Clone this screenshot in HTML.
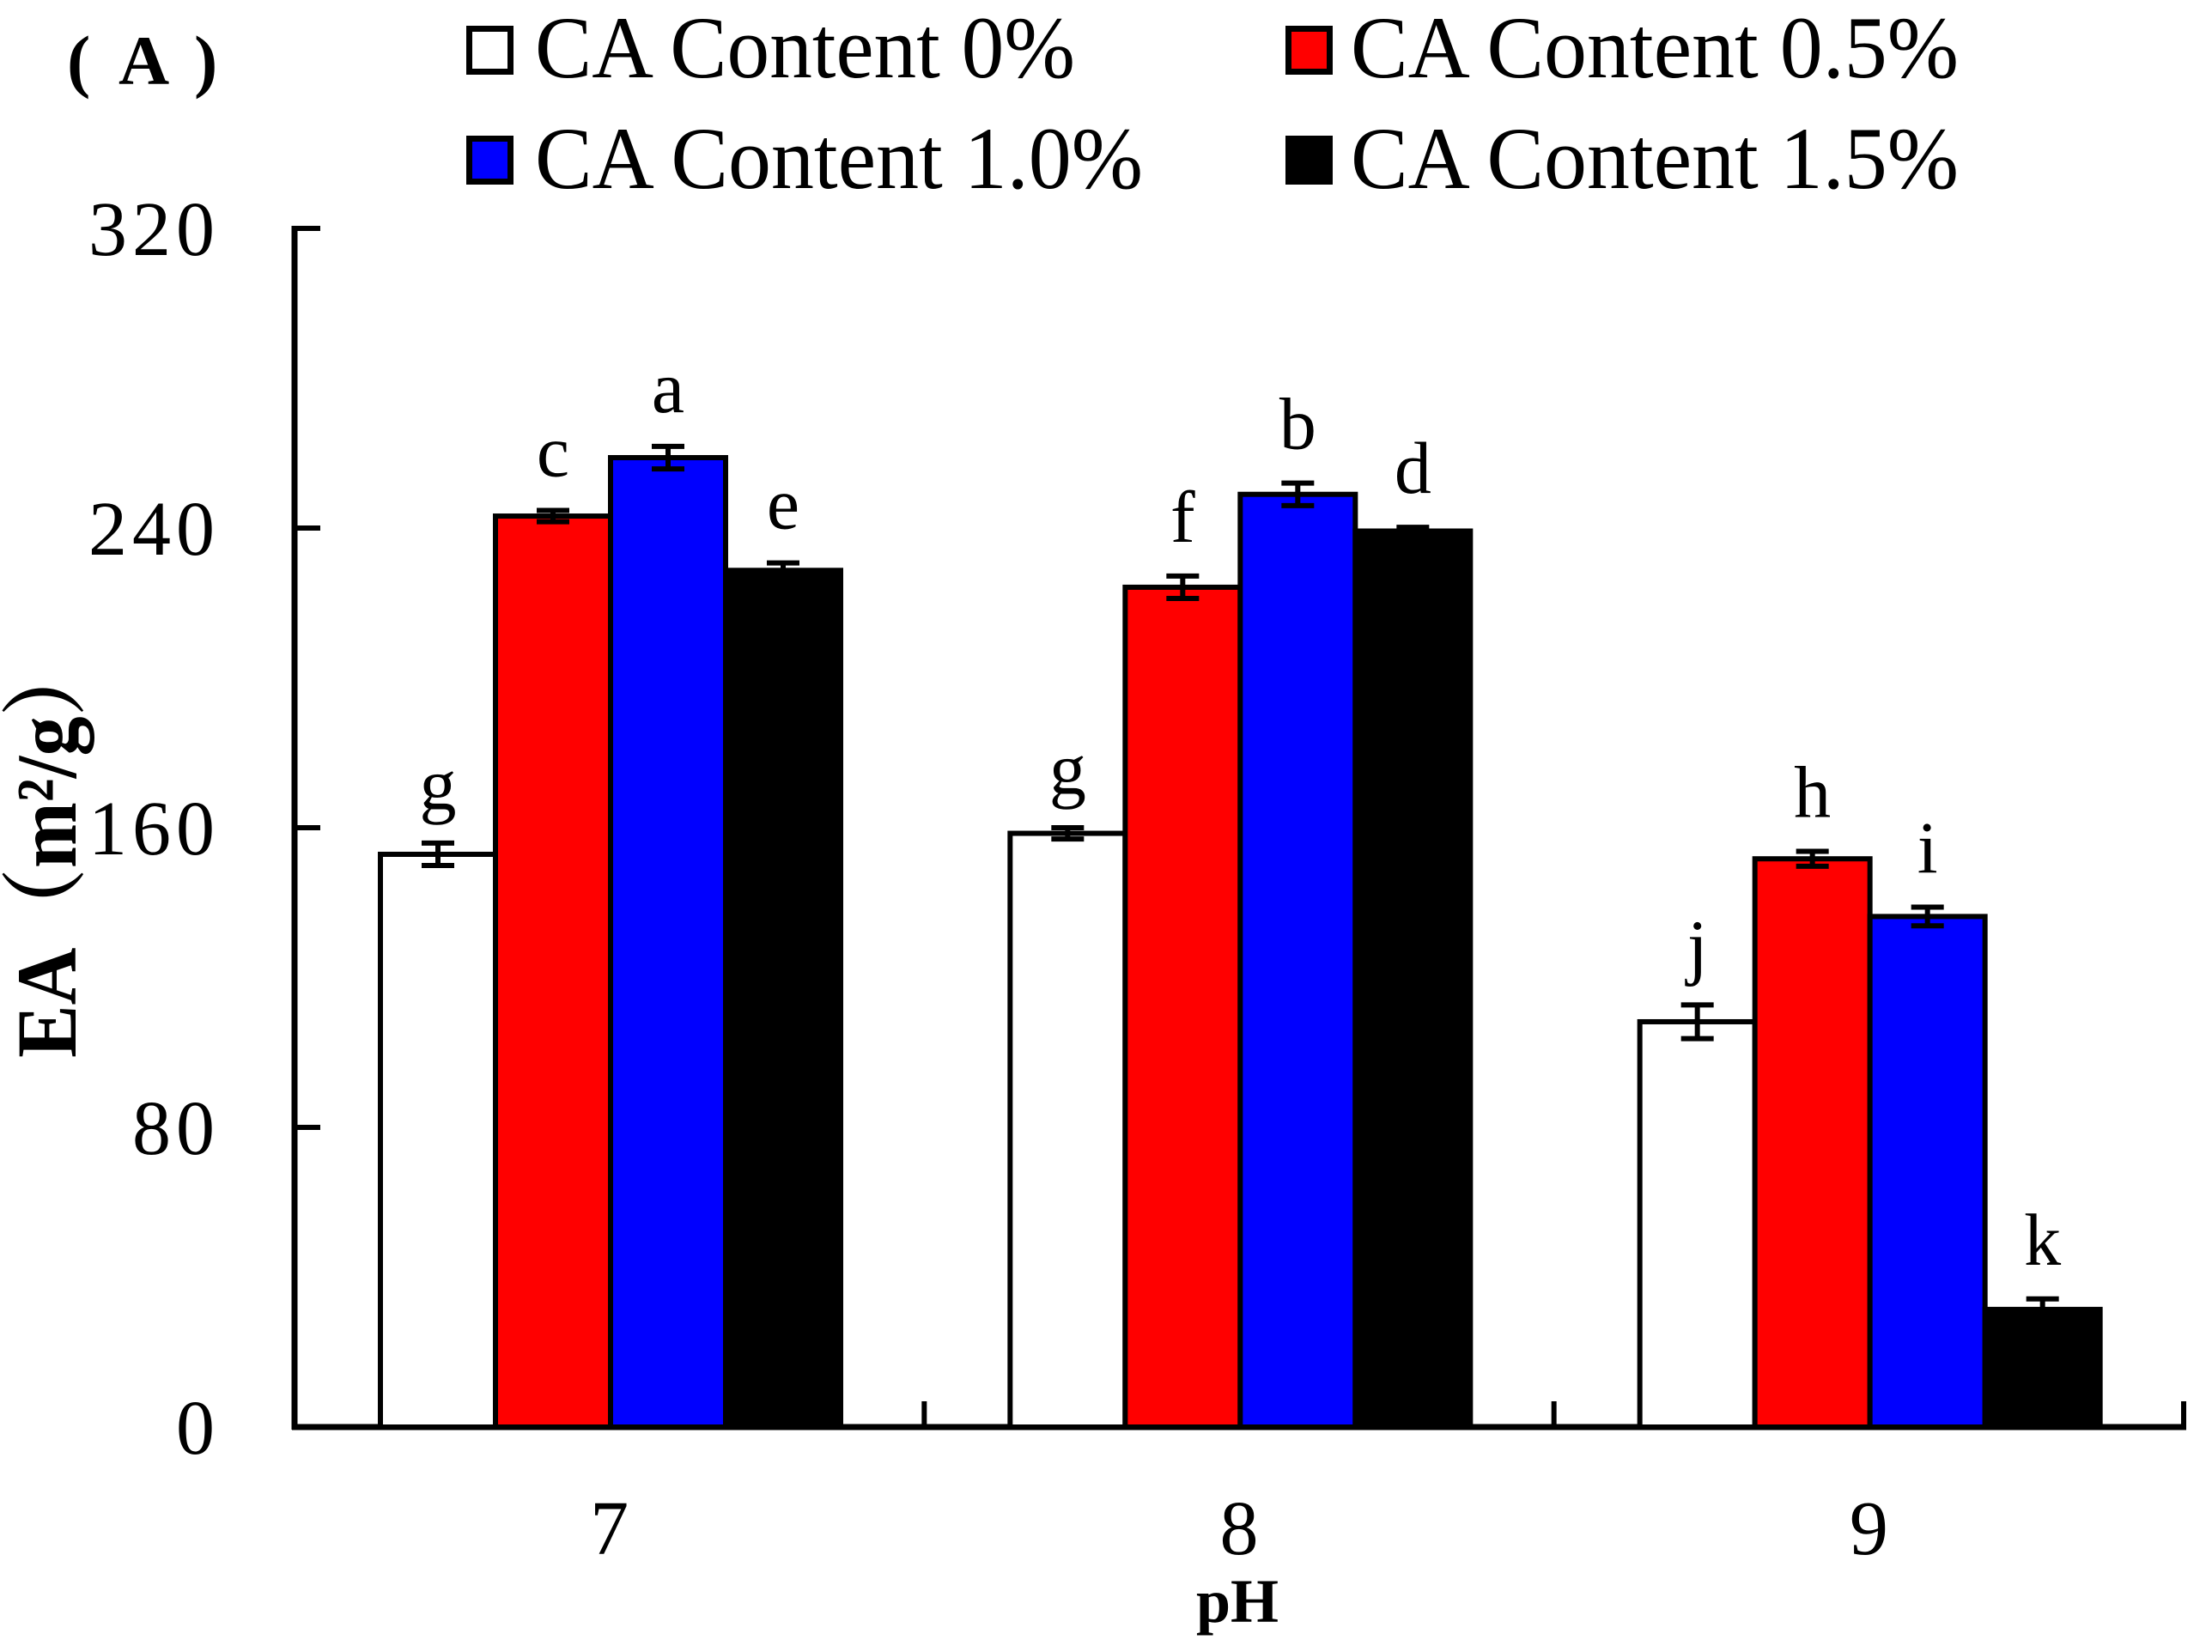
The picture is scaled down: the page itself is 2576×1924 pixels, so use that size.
<!DOCTYPE html>
<html><head><meta charset="utf-8"><style>html,body{margin:0;padding:0;background:#fff}svg{display:block}</style></head>
<body>
<svg id="chart" width="2576" height="1924" viewBox="0 0 2576 1924" xmlns="http://www.w3.org/2000/svg" font-family="'Liberation Serif', 'Noto Serif CJK SC', serif">
<rect width="2576" height="1924" fill="#fff"/>
<g font-size="82" font-weight="bold">
<text x="78" y="98">(</text>
<text x="138" y="98">A</text>
<text x="226" y="98">)</text>
</g>
<g id="legend"></g>
<g id="axes"></g>
<g id="bars"></g>
<text x="1441" y="1889" font-size="72" font-weight="bold" text-anchor="middle">pH</text>
<text transform="translate(88,987) rotate(-90)" font-size="100" font-weight="bold" text-anchor="middle" textLength="490" lengthAdjust="spacingAndGlyphs" font-family="'Liberation Serif','Noto Serif CJK SC',serif">EA（m²/g）</text>
</svg>
<script>
const categories = ["7", "8", "9"];
const seriesNames = ["CA Content 0%", "CA Content 0.5%", "CA Content 1.0%", "CA Content 1.5%"];
const seriesColors = ["#ffffff", "#ff0000", "#0000ff", "#000000"];
const ca0 = [152.9, 158.5, 108.2];
const ca05 = [243.2, 224.2, 151.7];
const ca10 = [258.8, 249.0, 136.3];
const ca15 = [228.7, 239.2, 31.4];
const err0 = [3.0, 1.5, 4.5];
const err05 = [1.5, 3.0, 2.0];
const err10 = [3.0, 3.0, 2.5];
const err15 = [2.0, 1.0, 2.8];
const letters0 = ["g", "g", "j"];
const letters05 = ["c", "f", "h"];
const letters10 = ["a", "b", "i"];
const letters15 = ["e", "d", "k"];
const yTicks = [0, 80, 160, 240, 320];

const NS = "http://www.w3.org/2000/svg";
const X0 = 343, X1 = 2543, Y0 = 1662, YTOP = 266, YMAX = 320;
const groupW = (X1 - X0) / categories.length;
const barW = 134, barOff = 100;
function yScale(v){ return Y0 - (v / YMAX) * (Y0 - YTOP); }
function xBar(gi, si){ return X0 + gi * groupW + barOff + si * barW; }
function mk(tag, attrs, parent){ const e = document.createElementNS(NS, tag); for (const k in attrs) e.setAttribute(k, attrs[k]); parent.appendChild(e); return e; }

const axes = document.getElementById('axes');
const bars = document.getElementById('bars');
const legend = document.getElementById('legend');
const values = [ca0, ca05, ca10, ca15];
const errs = [err0, err05, err10, err15];
const letters = [letters0, letters05, letters10, letters15];

values.forEach((vals, si) => {
  vals.forEach((v, gi) => {
    const x = xBar(gi, si), y = yScale(v);
    const r = mk('rect', {x: x, y: y, width: barW, height: Y0 - y, fill: seriesColors[si], stroke: '#000', 'stroke-width': 6}, bars);
    
    
    const cx = x + barW / 2, e = errs[si][gi];
    const yt = yScale(v + e), yb = yScale(v - e);
    const eb = mk('path', {d: `M${cx-19},${yt}H${cx+19}M${cx},${yt}V${yb}M${cx-19},${yb}H${cx+19}`, stroke: '#000', 'stroke-width': 6, fill: 'none'}, bars);
    
    
    const t = mk('text', {x: cx, y: yt - 40, 'font-size': 86, 'text-anchor': 'middle'}, bars);
    t.textContent = letters[si][gi];
    
    
  });
});

const ya = mk('line', {x1: X0, y1: YTOP - 3, x2: X0, y2: Y0 + 3, stroke: '#000', 'stroke-width': 7}, axes);


const xa = mk('line', {x1: X0 - 3, y1: Y0, x2: X1 + 3, y2: Y0, stroke: '#000', 'stroke-width': 7}, axes);


yTicks.forEach(v => {
  const y = yScale(v);
  const tk = mk('line', {x1: X0, y1: y, x2: X0 + 30, y2: y, stroke: '#000', 'stroke-width': 6}, axes);
  
  
  const lb = mk('text', {x: 256, y: y + 31, 'font-size': 90, 'text-anchor': 'end', 'letter-spacing': 6}, axes);
  lb.textContent = String(v);
  
  
});
for (let i = 1; i <= categories.length; i++) {
  const x = X0 + i * groupW;
  const tk = mk('line', {x1: x, y1: Y0, x2: x, y2: Y0 - 30, stroke: '#000', 'stroke-width': 6}, axes);
  
  
}
categories.forEach((c, gi) => {
  const lb = mk('text', {x: X0 + (gi + 0.5) * groupW, y: 1810, 'font-size': 90, 'text-anchor': 'middle'}, axes);
  lb.textContent = c;
  
  
});

const legPos = [[543, 30, 623, 90], [1497, 30, 1573, 90], [543, 158, 623, 219], [1497, 158, 1573, 219]];
const legLen = [629, 708, 708, 708];
seriesNames.forEach((n, si) => {
  const p = legPos[si];
  const g = mk('g', {}, legend);
  
  
  const sw = mk('rect', {x: p[0] + 3.5, y: p[1] + 3.5, width: 48, height: 50, fill: seriesColors[si], stroke: '#000', 'stroke-width': 7}, g);
  
  
  const t = mk('text', {x: p[2], y: p[3], 'font-size': 103, textLength: legLen[si], lengthAdjust: 'spacingAndGlyphs'}, g);
  t.textContent = n;
  
  
});
</script>
</body></html>
